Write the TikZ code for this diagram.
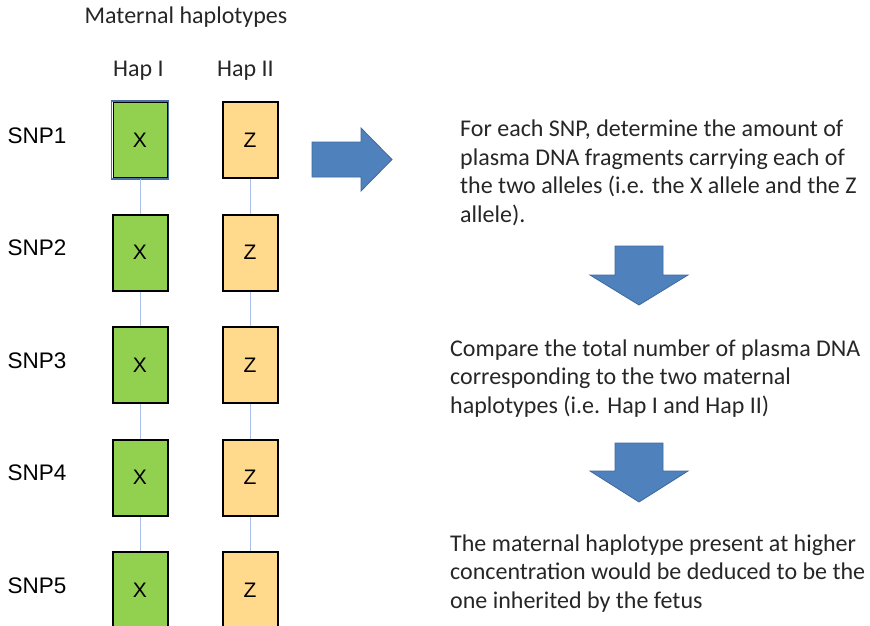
\documentclass[tikz,border=0pt]{standalone}
\usepackage{fontspec}
\setmainfont{Carlito}
\newfontfamily\arialfont{Liberation Sans}
\usetikzlibrary{positioning}
\definecolor{hap-green}{HTML}{92D050}
\definecolor{hap-yellow}{HTML}{FFD98C}
\definecolor{hap-edge}{HTML}{4A6FA5}
\definecolor{link-blue}{HTML}{A9C1E8}
\definecolor{arrow-blue}{HTML}{4F81BD}
\definecolor{arrow-edge}{HTML}{3F6A9E}
\definecolor{hap-text}{HTML}{262626}

\tikzset{
    allele/.style={draw=black, line width=2pt, minimum width=55pt, minimum height=76pt,
        inner sep=0pt, font=\arialfont\fontsize{21}{22}\selectfont},
    link/.style={link-blue, line width=1pt},
    blockarrow/.style={fill=arrow-blue, draw=arrow-edge, line width=0.8pt, line join=miter},
    heading/.style={anchor=base, inner sep=0pt, text=hap-text, font=\fontsize{24}{28}\selectfont},
    steptext/.style={anchor=base west, align=left, inner sep=0pt, text=hap-text,
        font=\fontsize{24}{28.5}\selectfont}
}

\begin{document}
\begin{tikzpicture}[x=1pt, y=-1pt]
    \useasboundingbox (0,0) rectangle (870,626);

    % --- Haplotype headings ---
    \node[heading] (title) at (186,24) {Maternal haplotypes};
    \node[heading] (hapI) at (138.5,77) {Hap I};
    \node[heading] (hapII) at (245.5,77) {Hap II};

    % --- SNP rows ---
    \foreach \i in {1,...,5} {
        \pgfmathsetmacro{\yc}{140 + (\i-1)*112.5}
        \node[anchor=base, inner sep=0pt, font=\arialfont\fontsize{22.5}{25}\selectfont]
            (snp\i) at (37,\yc+3) {SNP\i};
        \node[allele, fill=hap-green] (x\i) at (140,\yc) {X};
        \node[allele, fill=hap-yellow] (z\i) at (250,\yc) {Z};
    }
    % first box has a blue outline
    \draw[white, line width=2pt] (x1.south west) rectangle (x1.north east);
    \draw[hap-edge, line width=1.6pt] (x1.south west) rectangle (x1.north east);

    % links between the SNPs of one haplotype
    \foreach \i [evaluate=\i as \j using int(\i+1)] in {1,...,4} {
        \draw[link] (x\i) -- (x\j);
        \draw[link] (z\i) -- (z\j);
    }

    % --- Steps ---
    \draw[blockarrow] (312,142) -- (361,142) -- (361,128) -- (392,159.5) -- (361,191)
        -- (361,177) -- (312,177) -- cycle;
    \node[steptext] (step1) at (460,222) {For each SNP, determine the amount of\\
        plasma DNA fragments carrying each of\\
        the two alleles (i.e. the X allele and the Z\\
        allele).};

    \draw[blockarrow] (615,246) -- (663,246) -- (663,275) -- (688,275) -- (639,305)
        -- (590,275) -- (615,275) -- cycle;
    \node[steptext] (step2) at (450,413) {Compare the total number of plasma DNA\\
        corresponding to the two maternal\\
        haplotypes (i.e. Hap I and Hap II)};

    \draw[blockarrow] (615,443) -- (663,443) -- (663,471) -- (688,471) -- (639,502)
        -- (590,471) -- (615,471) -- cycle;
    \node[steptext] (step3) at (450,608) {The maternal haplotype present at higher\\
        concentration would be deduced to be the\\
        one inherited by the fetus};
\end{tikzpicture}
\end{document}
